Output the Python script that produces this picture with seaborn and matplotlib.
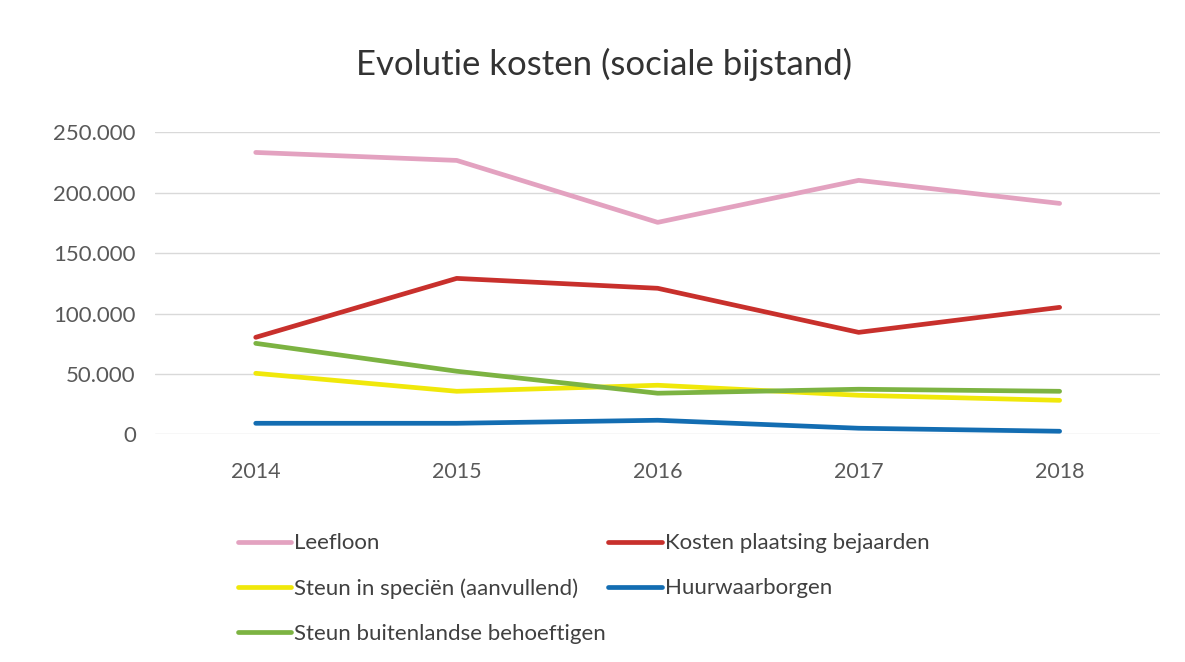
import matplotlib

matplotlib.use("Agg")
import matplotlib.pyplot as plt
import pandas as pd
import seaborn as sns
from matplotlib.ticker import FuncFormatter

years = ["2014", "2015", "2016", "2017", "2018"]
leefloon = [233400, 226800, 175500, 210300, 191200]
kosten_bejaarden = [80300, 129100, 120900, 84400, 105100]
steun_specien = [50500, 35600, 40600, 32300, 28100]
huurwaarborgen = [9100, 9100, 11600, 5000, 2500]
steun_buitenland = [75300, 52200, 34000, 37300, 35600]

series = {
    "Leefloon": leefloon,
    "Kosten plaatsing bejaarden": kosten_bejaarden,
    "Steun in speciën (aanvullend)": steun_specien,
    "Huurwaarborgen": huurwaarborgen,
    "Steun buitenlandse behoeftigen": steun_buitenland,
}
colors = {
    "Leefloon": "#e3a2c0",
    "Kosten plaatsing bejaarden": "#c8302c",
    "Steun in speciën (aanvullend)": "#f0e80a",
    "Huurwaarborgen": "#136db2",
    "Steun buitenlandse behoeftigen": "#7cb342",
}

df = pd.DataFrame(
    [(name, y, v) for name, vals in series.items() for y, v in zip(years, vals)],
    columns=["reeks", "jaar", "kosten"],
)

sns.set_theme(style="white")
plt.rcParams["font.family"] = ["Lato", "DejaVu Sans"]

fig = plt.figure(figsize=(11.85, 6.62), dpi=100)
ax = fig.add_axes([0.131, 0.344, 0.848, 0.456])

sns.lineplot(
    data=df, x="jaar", y="kosten", hue="reeks", palette=colors,
    linewidth=3.4, sort=False, ax=ax,
)

ax.set_xlim(-0.5, 4.5)
ax.set_ylim(0, 250000)
ax.set_yticks(range(0, 250001, 50000))
ax.yaxis.set_major_formatter(FuncFormatter(lambda v, _: f"{int(v):,}".replace(",", ".")))
ax.grid(axis="y", color="#d9d9d9", linewidth=1)
ax.set_axisbelow(True)
for s in ax.spines.values():
    s.set_visible(False)
ax.tick_params(axis="both", length=0, colors="#595959")
ax.tick_params(axis="x", pad=20, labelsize=15.5)
ax.tick_params(axis="y", pad=14, labelsize=16)
ax.set_xlabel("")
ax.set_ylabel("")

fig.suptitle("Evolutie kosten (sociale bijstand)", x=0.51, y=0.927, fontsize=25, color="#333333")

handles, labels = ax.get_legend_handles_labels()
order = ["Leefloon", "Steun in speciën (aanvullend)", "Steun buitenlandse behoeftigen",
         "Kosten plaatsing bejaarden", "Huurwaarborgen"]
lookup = dict(zip(labels, handles))
ax.legend(
    [lookup[k] for k in order], order, ncol=2, frameon=False,
    loc="upper left", bbox_to_anchor=(0.062, -0.262), fontsize=16,
    handlelength=2.4, handletextpad=0.15, columnspacing=0.1, labelspacing=1.13,
    labelcolor="#404040",
)

fig.savefig("out.png", dpi=100)
